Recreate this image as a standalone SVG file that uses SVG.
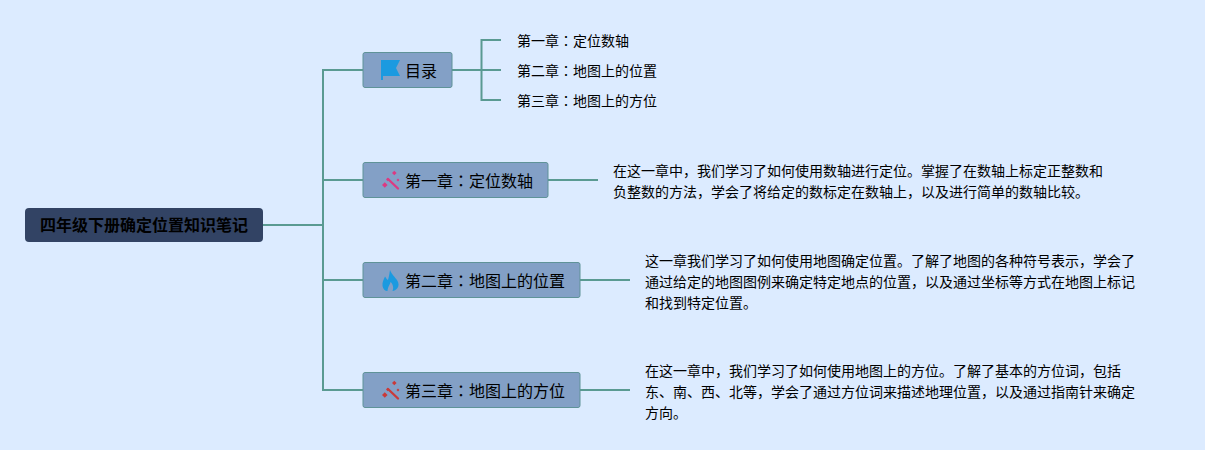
<svg xmlns="http://www.w3.org/2000/svg" width="1205" height="450" viewBox="0 0 1205 450">
<style>
text{font-family:"Noto Sans CJK SC","Noto Sans",sans-serif;fill:#000}
.c{font-family:"Noto Sans CJK TC","Noto Sans CJK SC",sans-serif}
.conn{fill:none;stroke:#5a9a92;stroke-width:2}
.b{fill:#83a0c6;stroke:#5f9398;stroke-width:1}
.t{font-size:16px}
.s{font-size:14px}
.root{fill:#324364}
.rt{font-size:16px;font-weight:700}
.w{fill:none;stroke-width:2.400;stroke-linecap:round}
</style>
<defs>
<g id="wand"><path d="M-3,-2 L7,7.500" class="w"/><path stroke="none" d="M-9,4 l2.800,-2.800 l2.800,2.800 l-2.800,2.800z M-5,-1.500 l1.700,-1.700 l1.700,1.700 l-1.700,1.700z M1,-8 l2.300,-2.300 l2.300,2.300 l-2.300,2.300z M5.500,-1 l1.500,-1.500 l1.500,1.500 l-1.500,1.500z"/></g>
</defs>
<rect width="1205" height="450" fill="#dcebff"/>
<g id="connectors" class="conn">
<path d="M262,225H323"/>
<path d="M363,70H323V390H363"/>
<path d="M323,180H363M323,280H363"/>
<path d="M452,70H501M501,40H481.500V100H501"/>
<path d="M548,180H598M580,280H630M580,390H630"/>
</g>
<g id="root"><rect class="root" x="25" y="208" width="238" height="34" rx="4"/><text class="rt" x="144" y="231" text-anchor="middle">四年级下册确定位置知识笔记</text></g>
<g id="n-mulu"><rect class="b" x="363" y="52.500" width="89" height="35" rx="2"/>
<path d="M381,60H400L396,68L400,76H383V80H381Z" fill="#1b9ae0"/>
<text class="t" x="405" y="76.500">目录</text></g>
<g id="n-ch1"><rect class="b" x="363" y="162.500" width="185" height="35" rx="2"/>
<use href="#wand" x="391" y="181" fill="#dc3a82" stroke="#dc3a82"/>
<text class="t" x="405" y="186.500">第一章<tspan class="c">：</tspan>定位数轴</text></g>
<g id="n-ch2"><rect class="b" x="363" y="262.500" width="217" height="35" rx="2"/>
<path d="M390,270C392,275 395,277 397,280C399,283 399,286 397.500,288C396,290 394,291 392.500,291C394,288 393,284 390.500,282C390,285 388,286 387.500,291C385,291 383,289 382.500,286C382,282 384,279 385,276.500C386,278 387,279.500 388,280C389,277 389.500,273 390,270Z" fill="#1b9ae0"/>
<text class="t" x="405" y="286.500">第二章<tspan class="c">：</tspan>地图上的位置</text></g>
<g id="n-ch3"><rect class="b" x="363" y="372.500" width="217" height="35" rx="2"/>
<use href="#wand" x="391" y="391" fill="#c93a3a" stroke="#c93a3a"/>
<text class="t" x="405" y="396.500">第三章<tspan class="c">：</tspan>地图上的方位</text></g>
<g id="toc1"><text class="s" x="517" y="46">第一章<tspan class="c">：</tspan>定位数轴</text></g>
<g id="toc2"><text class="s" x="517" y="76">第二章<tspan class="c">：</tspan>地图上的位置</text></g>
<g id="toc3"><text class="s" x="517" y="106">第三章<tspan class="c">：</tspan>地图上的方位</text></g>
<g id="d1"><text class="s"><tspan x="613" y="176">在这一章中，我们学习了如何使用数轴进行定位。掌握了在数轴上标定正整数和</tspan><tspan x="613" y="197">负整数的方法，学会了将给定的数标定在数轴上，以及进行简单的数轴比较。</tspan></text></g>
<g id="d2"><text class="s"><tspan x="645" y="266">这一章我们学习了如何使用地图确定位置。了解了地图的各种符号表示，学会了</tspan><tspan x="645" y="287">通过给定的地图图例来确定特定地点的位置，以及通过坐标等方式在地图上标记</tspan><tspan x="645" y="307.500">和找到特定位置。</tspan></text></g>
<g id="d3"><text class="s"><tspan x="645" y="376">在这一章中，我们学习了如何使用地图上的方位。了解了基本的方位词，包括</tspan><tspan x="645" y="397">东、南、西、北等，学会了通过方位词来描述地理位置，以及通过指南针来确定</tspan><tspan x="645" y="417.500">方向。</tspan></text></g>
</svg>
